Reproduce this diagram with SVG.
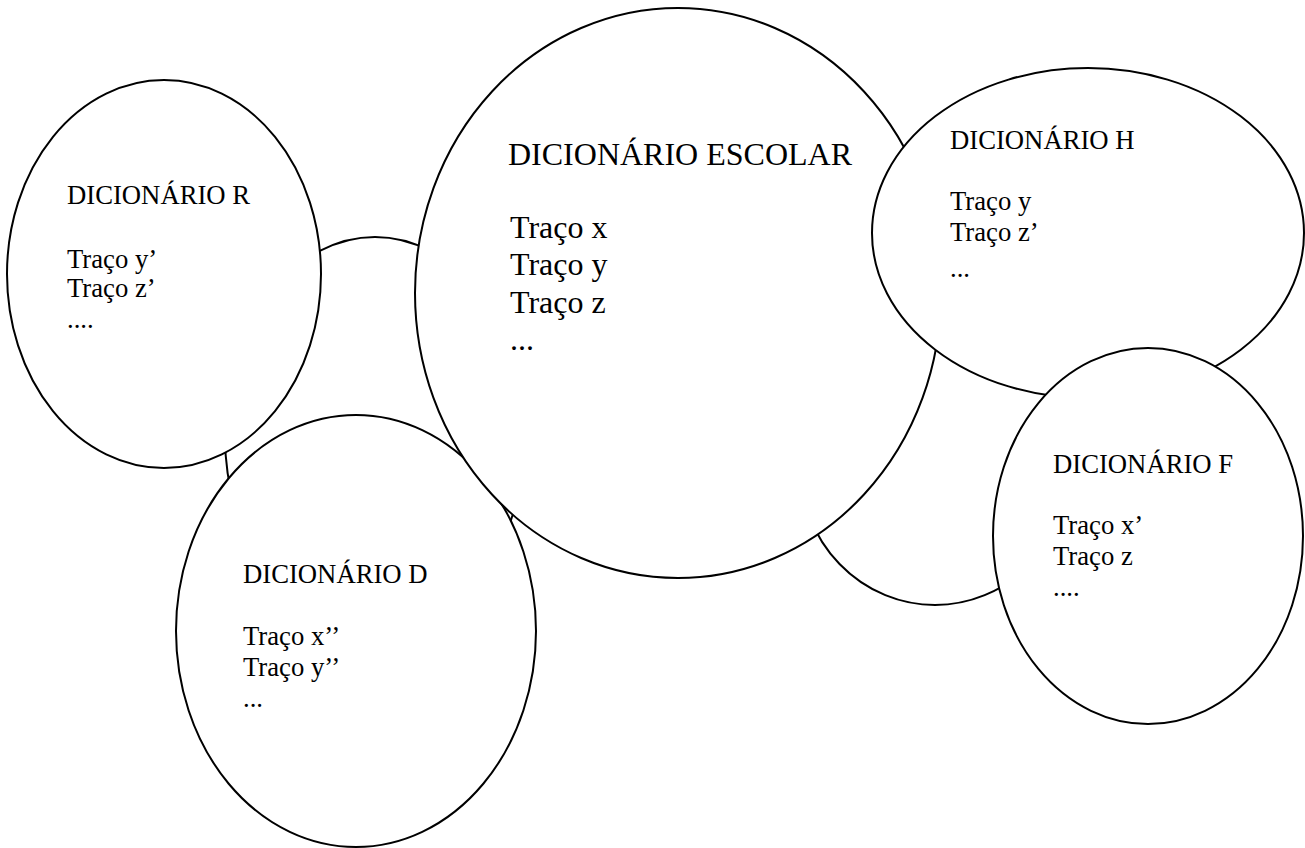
<svg xmlns="http://www.w3.org/2000/svg" width="1305" height="848" viewBox="0 0 1305 848">
<style>
.e{fill:#fff;stroke:#000;stroke-width:2}
text{font-family:"Liberation Serif","Times New Roman",serif;fill:#000}
.s{font-size:26.7px}
.b{font-size:32px}
</style>
<rect width="1305" height="848" fill="#fff"/>
<g id="connectors"/>
<g id="bg-left"><ellipse class="e" cx="375" cy="436" rx="150" ry="199"/></g>
<g id="bg-right"><ellipse class="e" cx="935" cy="465" rx="135" ry="140"/></g>
<g id="dic-r">
<ellipse class="e" cx="164" cy="274" rx="157" ry="194"/>
<text class="s" x="67" y="204">DICIONÁRIO R</text>
<text class="s" x="67" y="268">Traço y’</text>
<text class="s" x="67" y="297">Traço z’</text>
<text class="s" x="67" y="328">....</text>
</g>
<g id="dic-d">
<ellipse class="e" cx="356" cy="631" rx="180" ry="216"/>
<text class="s" x="243" y="583">DICIONÁRIO D</text>
<text class="s" x="243" y="645">Traço x’’</text>
<text class="s" x="243" y="676">Traço y’’</text>
<text class="s" x="243" y="707">...</text>
</g>
<g id="dic-escolar">
<ellipse class="e" cx="678" cy="293" rx="263" ry="285"/>
<text class="b" x="508" y="165">DICIONÁRIO ESCOLAR</text>
<text class="b" x="510" y="238">Traço x</text>
<text class="b" x="510" y="275">Traço y</text>
<text class="b" x="510" y="313">Traço z</text>
<text class="b" x="510" y="350">...</text>
</g>
<g id="dic-h">
<ellipse class="e" cx="1088" cy="233" rx="216" ry="165"/>
<text class="s" x="950" y="149">DICIONÁRIO H</text>
<text class="s" x="950" y="210">Traço y</text>
<text class="s" x="950" y="241">Traço z’</text>
<text class="s" x="950" y="277">...</text>
</g>
<g id="dic-f">
<ellipse class="e" cx="1148" cy="536" rx="155" ry="188"/>
<text class="s" x="1053" y="473">DICIONÁRIO F</text>
<text class="s" x="1053" y="534">Traço x’</text>
<text class="s" x="1053" y="565">Traço z</text>
<text class="s" x="1053" y="596">....</text>
</g>
</svg>
